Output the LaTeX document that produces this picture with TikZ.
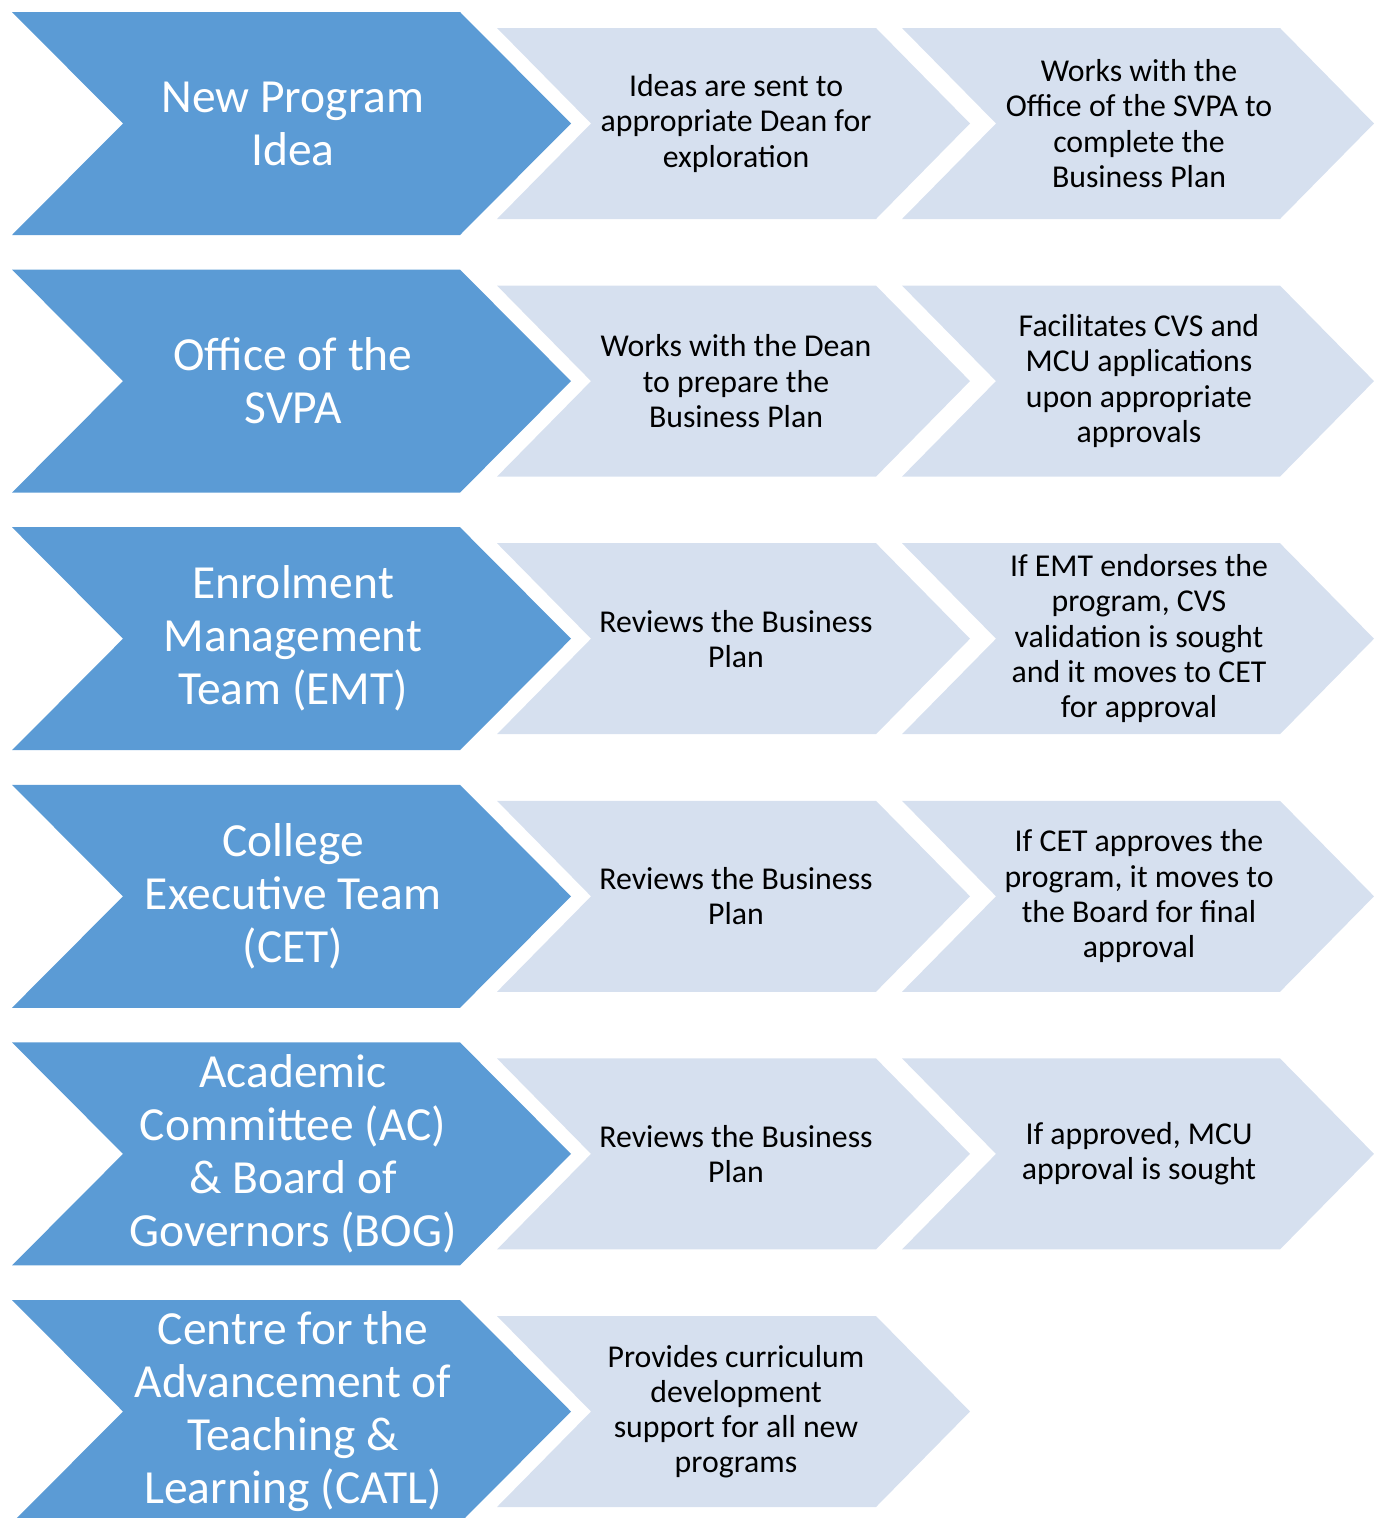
\documentclass[tikz,border=0pt]{standalone}
\usepackage{fontspec}
\setmainfont{Carlito}
\usepackage{tikz}

\definecolor{bigblue}{HTML}{5B9BD5}
\definecolor{paleblue}{HTML}{D6E0EF}

\begin{document}
\begin{tikzpicture}[x=1pt,y=-1pt,
    bigtext/.style={text=white, align=center, font=\fontsize{47.5}{53}\selectfont},
    smalltext/.style={text=black, align=center, font=\fontsize{31.8}{35.2}\selectfont}]
    \useasboundingbox (0,0) rectangle (1382,1518);
    \clip (0,0) rectangle (1382,1518);

    % left chevrons
    \foreach \r in {0,...,5}
    {\pgfmathsetmacro{\t}{12+257.6*\r}
    \fill[bigblue] (12,\t) -- (460,\t) -- (571,\t+111.5) -- (460,\t+223)
        -- (12,\t+223) -- (123,\t+111.5) -- cycle;}

    % middle chevrons
    \foreach \r in {0,...,5}
    {\pgfmathsetmacro{\t}{12+257.6*\r}
    \fill[paleblue] (497,\t+16) -- (876,\t+16) -- (970,\t+111.5) -- (876,\t+207)
        -- (497,\t+207) -- (591,\t+111.5) -- cycle;}

    % right chevrons
    \foreach \r in {0,...,4}
    {\pgfmathsetmacro{\t}{12+257.6*\r}
    \fill[paleblue] (902,\t+16) -- (1280,\t+16) -- (1374,\t+111.5) -- (1280,\t+207)
        -- (902,\t+207) -- (996,\t+111.5) -- cycle;}

    \node[bigtext] (idea) at (293,123.5) {New Program\\Idea};
    \node[smalltext] (idea-a) at (736,123.5) {Ideas are sent to\\appropriate Dean for\\exploration};
    \node[smalltext] (idea-b) at (1139,123.5) {Works with the\\Office of the SVPA to\\complete the\\Business Plan};

    \node[bigtext] (svpa) at (293,381.1) {Office of the\\SVPA};
    \node[smalltext] (svpa-a) at (736,381.1) {Works with the Dean\\to prepare the\\Business Plan};
    \node[smalltext] (svpa-b) at (1139,381.1) {Facilitates CVS and\\MCU applications\\upon appropriate\\approvals};

    \node[bigtext] (emt) at (293,638.7) {Enrolment\\Management\\Team (EMT)};
    \node[smalltext] (emt-a) at (736,638.7) {Reviews the Business\\Plan};
    \node[smalltext] (emt-b) at (1139,638.7) {If EMT endorses the\\program, CVS\\validation is sought\\and it moves to CET\\for approval};

    \node[bigtext] (cet) at (293,896.3) {College\\Executive Team\\(CET)};
    \node[smalltext] (cet-a) at (736,896.3) {Reviews the Business\\Plan};
    \node[smalltext] (cet-b) at (1139,896.3) {If CET approves the\\program, it moves to\\the Board for final\\approval};

    \node[bigtext] (bog) at (293,1153.9) {Academic\\Committee (AC)\\\& Board of\\Governors (BOG)};
    \node[smalltext] (bog-a) at (736,1153.9) {Reviews the Business\\Plan};
    \node[smalltext] (bog-b) at (1139,1153.9) {If approved, MCU\\approval is sought};

    \node[bigtext] (catl) at (293,1411.5) {Centre for the\\Advancement of\\Teaching \&\\Learning (CATL)};
    \node[smalltext] (catl-a) at (736,1411.5) {Provides curriculum\\development\\support for all new\\programs};

\end{tikzpicture}
\end{document}
